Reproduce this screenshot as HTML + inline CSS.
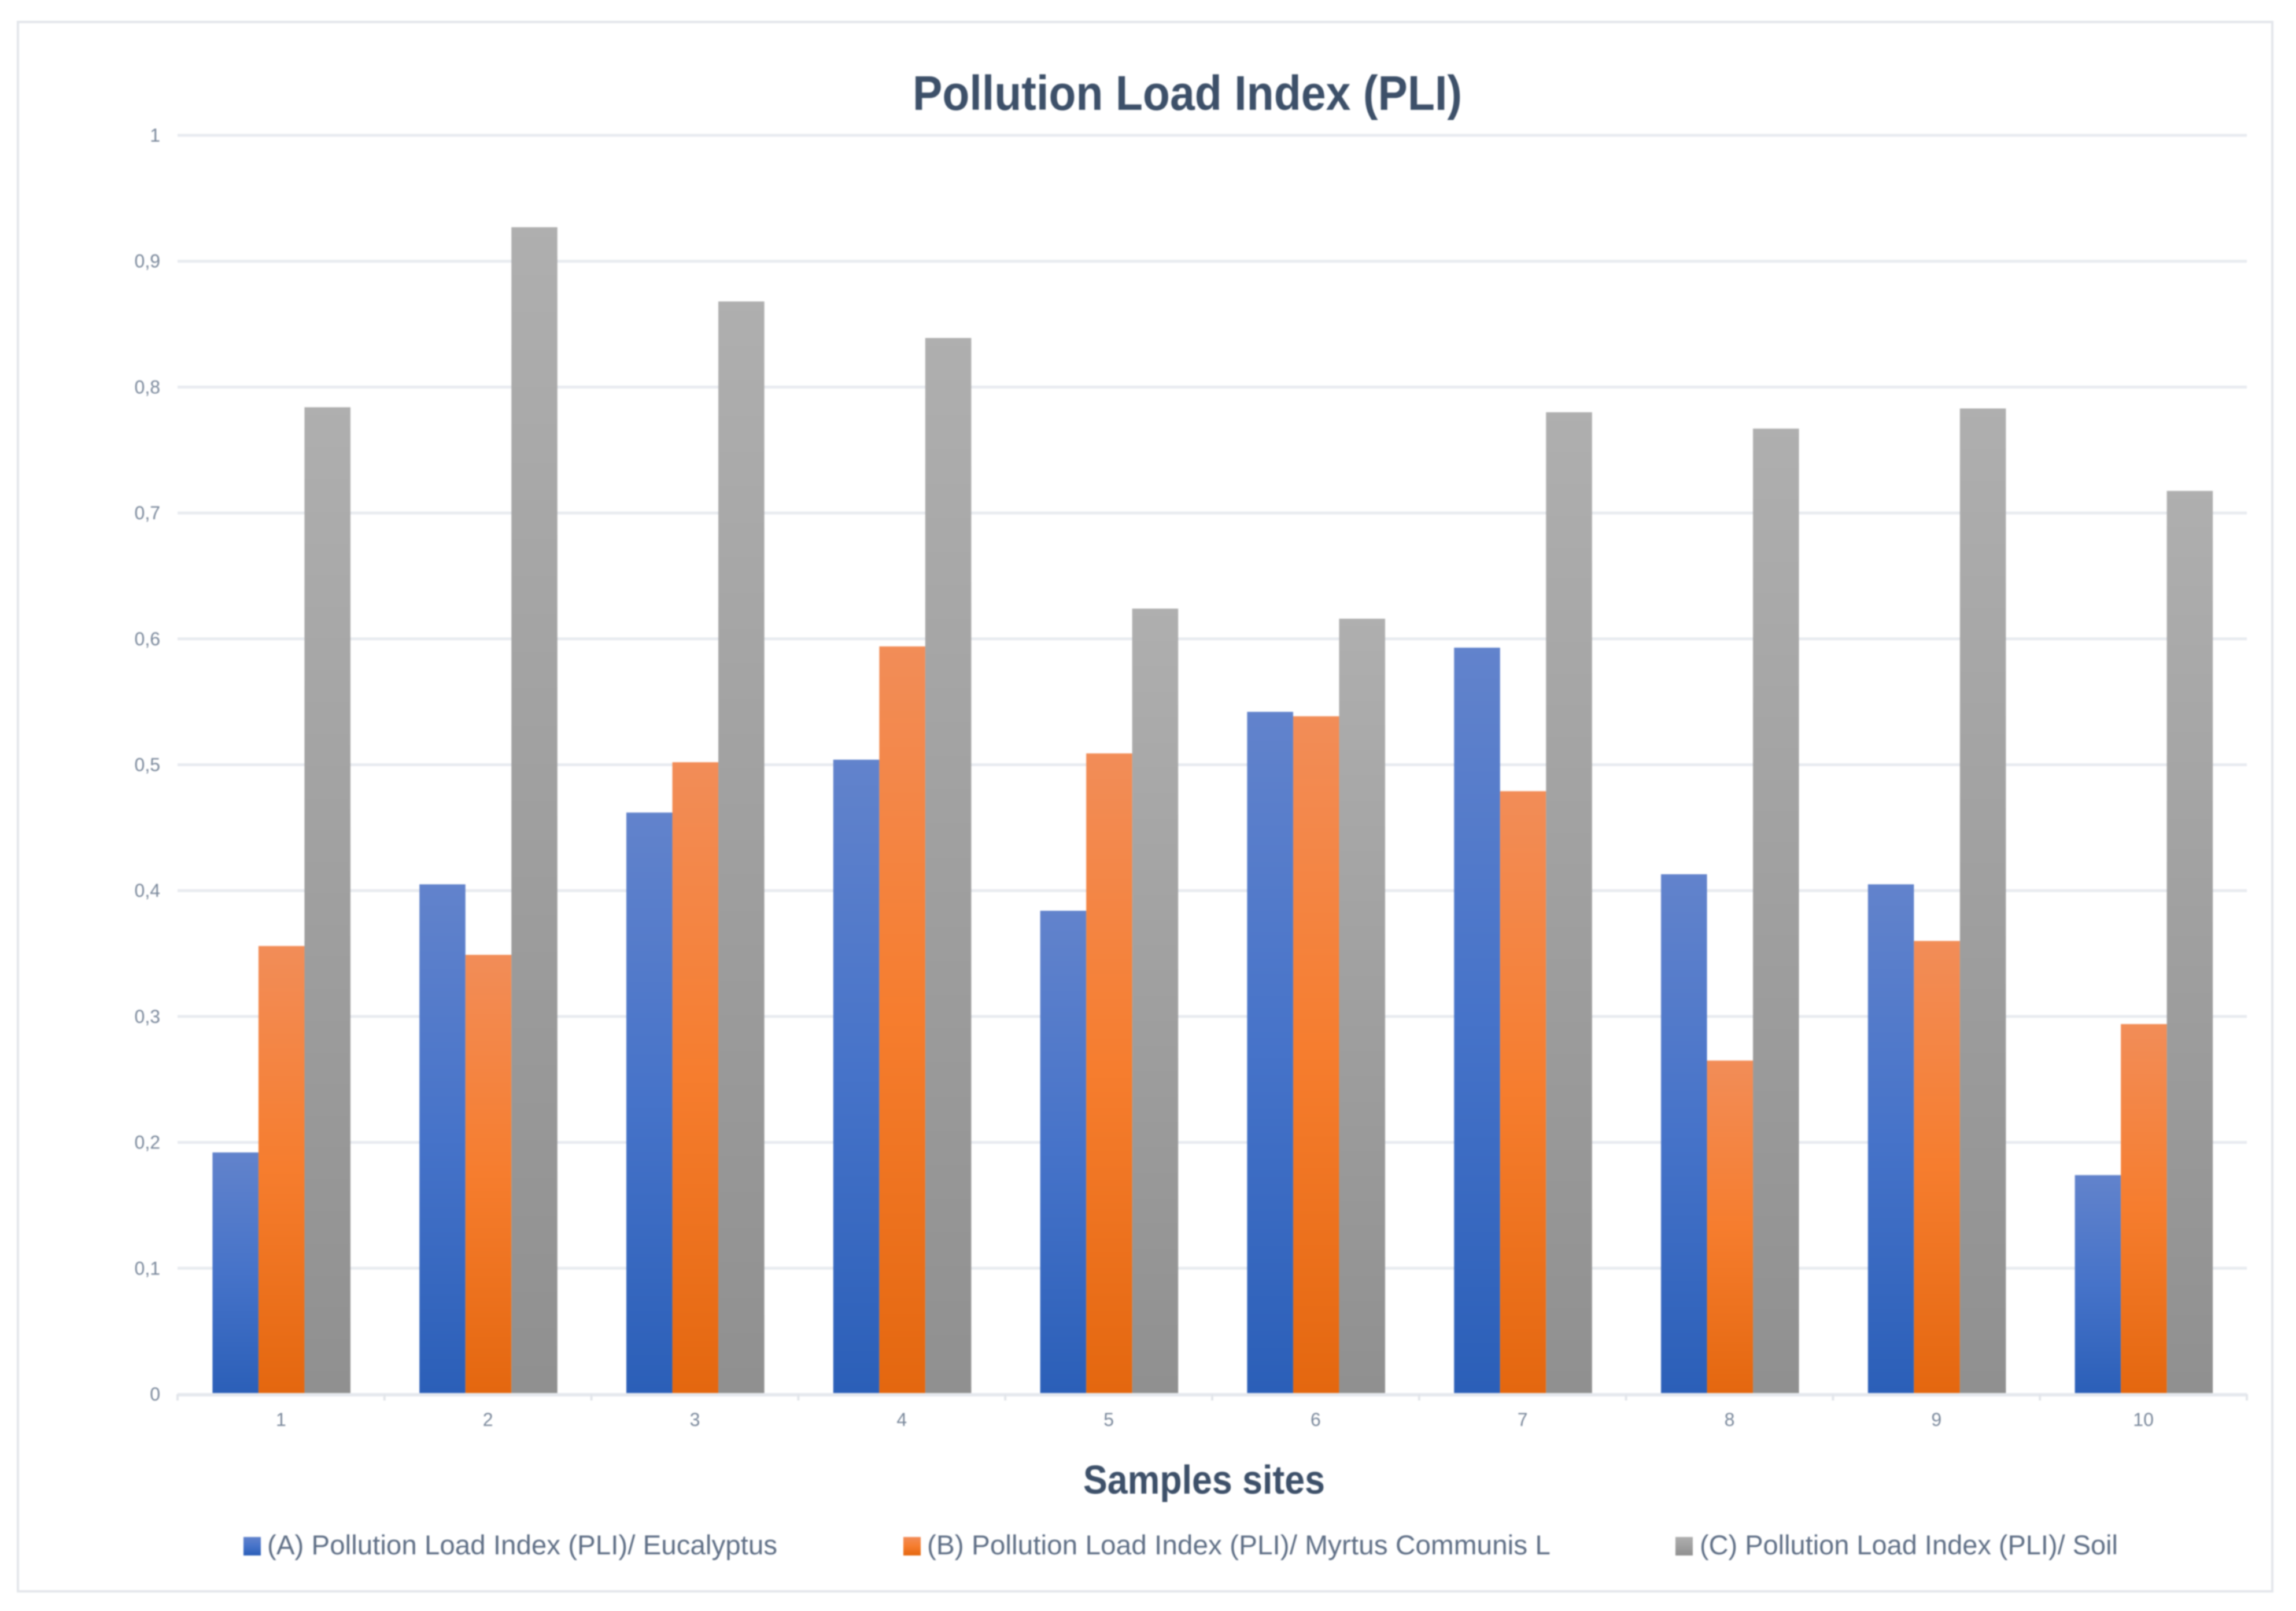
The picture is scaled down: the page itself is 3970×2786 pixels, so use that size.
<!DOCTYPE html>
<html lang="en">
<head>
<meta charset="utf-8">
<title>Pollution Load Index (PLI)</title>
<style>
html,body{margin:0;padding:0;background:#fff;width:3970px;height:2786px;overflow:hidden}
svg{display:block;filter:blur(1.1px)}
text{font-family:"Liberation Sans",sans-serif}
</style>
</head>
<body>
<svg id="chart" xmlns="http://www.w3.org/2000/svg" width="3970" height="2786" viewBox="0 0 3970 2786">
  <defs>
    <linearGradient id="grad-a" x1="0" y1="0" x2="0" y2="1">
      <stop offset="0" stop-color="#6283cc"/><stop offset="0.5" stop-color="#4673c9"/><stop offset="1" stop-color="#2b5fb8"/>
    </linearGradient>
    <linearGradient id="grad-b" x1="0" y1="0" x2="0" y2="1">
      <stop offset="0" stop-color="#f28d58"/><stop offset="0.5" stop-color="#f67d2e"/><stop offset="1" stop-color="#e4670f"/>
    </linearGradient>
    <linearGradient id="grad-c" x1="0" y1="0" x2="0" y2="1">
      <stop offset="0" stop-color="#afafaf"/><stop offset="1" stop-color="#909090"/>
    </linearGradient>
  </defs>
  <rect x="0" y="0" width="3970" height="2786" fill="#ffffff"/>
  <rect x="31" y="38" width="3898" height="2714" fill="#ffffff" stroke="#e3e6eb" stroke-width="4"/>
  <text x="1578" y="190" font-size="84" font-weight="700" fill="#3d5069" textLength="950" lengthAdjust="spacingAndGlyphs">Pollution Load Index (PLI)</text>
  <g id="grid"></g>
  <g id="y-axis"></g>
  <g id="bars"></g>
  <g id="x-axis"></g>
  <text x="1873" y="2583" font-size="70" font-weight="700" fill="#3d5069" textLength="418" lengthAdjust="spacingAndGlyphs">Samples sites</text>
  <g>
    <g>
      <rect x="421" y="2658" width="30" height="32" fill="url(#grad-a)"/>
      <text x="462" y="2688" font-size="47" fill="#5f6f86" textLength="882" lengthAdjust="spacingAndGlyphs">(A) Pollution Load Index (PLI)/ Eucalyptus</text>
    </g>
    <g>
      <rect x="1562" y="2658" width="30" height="32" fill="url(#grad-b)"/>
      <text x="1603" y="2688" font-size="47" fill="#5f6f86" textLength="1078" lengthAdjust="spacingAndGlyphs">(B) Pollution Load Index (PLI)/ Myrtus Communis L</text>
    </g>
    <g>
      <rect x="2897" y="2658" width="30" height="32" fill="url(#grad-c)"/>
      <text x="2939" y="2688" font-size="47" fill="#5f6f86" textLength="723" lengthAdjust="spacingAndGlyphs">(C) Pollution Load Index (PLI)/ Soil</text>
    </g>
  </g>
</svg>
<script>
const categories = ['1', '2', '3', '4', '5', '6', '7', '8', '9', '10'];
const seriesA = [0.192, 0.405, 0.462, 0.504, 0.384, 0.542, 0.593, 0.413, 0.405, 0.174];
const seriesB = [0.356, 0.349, 0.502, 0.594, 0.509, 0.5385, 0.479, 0.265, 0.360, 0.294];
const seriesC = [0.784, 0.927, 0.868, 0.839, 0.624, 0.616, 0.780, 0.767, 0.783, 0.7175];
const yTickValues = [0, 0.1, 0.2, 0.3, 0.4, 0.5, 0.6, 0.7, 0.8, 0.9, 1];
const yTickLabels = ['0', '0,1', '0,2', '0,3', '0,4', '0,5', '0,6', '0,7', '0,8', '0,9', '1'];
const seriesKeys = ['a', 'b', 'c'];

const NS = 'http://www.w3.org/2000/svg';
const plotLeft = 307, plotRight = 3885, plotBottom = 2411, plotTop = 234;
const catWidth = (plotRight - plotLeft) / categories.length;
const barWidth = catWidth * 2 / 9;

function yScale(v) { return plotBottom - v * (plotBottom - plotTop); }
function catStart(i) { return plotLeft + i * catWidth; }
function barX(i, s) { return catStart(i) + catWidth / 6 + s * barWidth + 0.8; }

function make(tag, attrs, parent) {
  const el = document.createElementNS(NS, tag);
  for (const k in attrs) el.setAttribute(k, attrs[k]);
  parent.appendChild(el);
  return el;
}

const gridG = document.getElementById('grid');
const yAxisG = document.getElementById('y-axis');
const xAxisG = document.getElementById('x-axis');
const barsG = document.getElementById('bars');

yTickValues.forEach(function (v, i) {
  if (v !== 0) {
    const line = make('line', {x1: plotLeft, x2: plotRight, y1: yScale(v), y2: yScale(v), stroke: '#e8ebf0', 'stroke-width': 5}, gridG);
    
    
  }
  const t = make('text', {x: 277, y: yScale(v) + 11, 'font-size': 32, 'text-anchor': 'end', fill: '#7a889b'}, yAxisG);
  t.textContent = yTickLabels[i];
  
  
});

[seriesA, seriesB, seriesC].forEach(function (values, s) {
  values.forEach(function (v, i) {
    const bar = make('rect', {x: barX(i, s), y: yScale(v), width: barWidth, height: plotBottom - yScale(v), fill: 'url(#grad-' + seriesKeys[s] + ')'}, barsG);
    
    
  });
});

const axisLine = make('line', {x1: plotLeft, x2: plotRight, y1: plotBottom + 1, y2: plotBottom + 1, stroke: '#e6e9ee', 'stroke-width': 6}, xAxisG);



for (let i = 0; i <= categories.length; i++) {
  const tick = make('line', {x1: catStart(i), x2: catStart(i), y1: plotBottom, y2: plotBottom + 11, stroke: '#e3e6eb', 'stroke-width': 4}, xAxisG);
  
  
}

categories.forEach(function (c, i) {
  const t = make('text', {x: catStart(i) + catWidth / 2, y: 2466, 'font-size': 32, 'text-anchor': 'middle', fill: '#7a889b'}, xAxisG);
  t.textContent = c;
  
  
});
</script>
</body>
</html>
